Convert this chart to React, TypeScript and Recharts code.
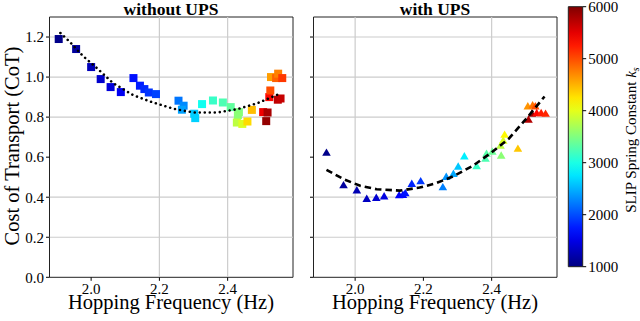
import React from 'react';
import { ScatterChart, Scatter, XAxis, YAxis, ReferenceLine, ReferenceArea, ComposedChart } from 'recharts';

const FONT = '"Liberation Serif", "Times New Roman", serif';

// ---- data ----
const xTicks = [2.0, 2.2, 2.4];
const yTicks = [0.0, 0.2, 0.4, 0.6, 0.8, 1.0, 1.2];
const cbTicks = [1000, 2000, 3000, 4000, 5000, 6000];

const leftFreq = [1.905, 1.956, 2.0, 2.028, 2.057, 2.087, 2.124, 2.143, 2.156, 2.169, 2.19, 2.256, 2.271, 2.266, 2.302, 2.305, 2.325, 2.357, 2.386, 2.409, 2.433, 2.43, 2.427, 2.443, 2.458, 2.471, 2.504, 2.517, 2.513, 2.522, 2.525, 2.547, 2.555, 2.527, 2.542, 2.548, 2.56];
const leftCot = [1.19, 1.14, 1.05, 0.99, 0.95, 0.925, 0.995, 0.957, 0.94, 0.923, 0.915, 0.882, 0.857, 0.837, 0.817, 0.795, 0.865, 0.883, 0.873, 0.85, 0.825, 0.81, 0.773, 0.766, 0.778, 0.836, 0.825, 0.823, 0.78, 0.9, 0.933, 0.887, 0.893, 1.0, 0.995, 1.017, 0.995];
const leftKs = [1050, 1150, 1280, 1380, 1450, 1560, 1700, 1760, 1820, 1880, 1950, 2200, 2300, 2420, 2600, 2650, 2950, 3150, 3250, 3350, 3500, 3550, 3800, 3950, 4300, 4450, 5450, 5800, 5900, 5350, 5000, 5700, 5650, 4600, 4900, 4750, 5100];

const leftFitFreq = [1.91, 1.936, 1.975, 2.02, 2.064, 2.123, 2.173, 2.241, 2.3, 2.37, 2.429, 2.488, 2.557];
const leftFitCot = [1.22, 1.178, 1.107, 1.04, 0.97, 0.91, 0.878, 0.842, 0.823, 0.823, 0.84, 0.87, 0.92];

const rightFreq = [1.916, 1.966, 2.005, 2.034, 2.062, 2.085, 2.129, 2.14, 2.147, 2.166, 2.192, 2.257, 2.267, 2.288, 2.302, 2.32, 2.356, 2.382, 2.385, 2.402, 2.428, 2.426, 2.434, 2.438, 2.477, 2.508, 2.506, 2.52, 2.528, 2.518, 2.532, 2.545, 2.558];
const rightCot = [0.625, 0.463, 0.437, 0.395, 0.4, 0.407, 0.413, 0.415, 0.423, 0.47, 0.483, 0.453, 0.505, 0.52, 0.556, 0.607, 0.558, 0.595, 0.62, 0.63, 0.611, 0.661, 0.686, 0.715, 0.645, 0.79, 0.857, 0.862, 0.857, 0.82, 0.823, 0.823, 0.82];
const rightKs = [1050, 1150, 1250, 1320, 1400, 1480, 1600, 1650, 1720, 1800, 1900, 2250, 2350, 2450, 2600, 2800, 3150, 3250, 3300, 3400, 3550, 3800, 3950, 4150, 4400, 5750, 4650, 4800, 5000, 5900, 5350, 5250, 5200];

const rightFitFreq = [1.916, 1.966, 2.015, 2.063, 2.131, 2.189, 2.237, 2.286, 2.344, 2.397, 2.45, 2.499, 2.555];
const rightFitCot = [0.537, 0.49, 0.457, 0.44, 0.433, 0.448, 0.47, 0.503, 0.556, 0.62, 0.692, 0.787, 0.903];

// ---- helpers ----
const KS_MIN = 1000;
const KS_MAX = 6000;
const jetT = (t: number) => {
  const c = (v: number) => Math.round(255 * Math.max(0, Math.min(1, v)));
  return `rgb(${c(1.5 - Math.abs(4 * t - 3))},${c(1.5 - Math.abs(4 * t - 2))},${c(1.5 - Math.abs(4 * t - 1))})`;
};
const jet = (k: number) => jetT((k - KS_MIN) / (KS_MAX - KS_MIN));

const leftPoints = leftFreq.map((f, i) => ({ f, c: leftCot[i], k: leftKs[i] }));
const rightPoints = rightFreq.map((f, i) => ({ f, c: rightCot[i], k: rightKs[i] }));
const leftFit = leftFitFreq.map((f, i) => ({ f, c: leftFitCot[i] }));
const rightFit = rightFitFreq.map((f, i) => ({ f, c: rightFitCot[i] }));

const xDomain: [number, number] = [1.878, 2.5915];
const yDomain: [number, number] = [0, 1.3];
const GRID = '#cccccc';

const Square = (p: any) => {
  const s = 8;
  return <rect x={p.cx - s / 2} y={p.cy - s / 2} width={s} height={s} fill={jet(p.payload.k)} />;
};
const Triangle = (p: any) => {
  const w = 8.6, h = 7.4;
  const pts = `${p.cx},${p.cy - h / 2} ${p.cx - w / 2},${p.cy + h / 2} ${p.cx + w / 2},${p.cy + h / 2}`;
  return <polygon points={pts} fill={jet(p.payload.k)} />;
};
const NoDot = () => <g />;

const tickStyle = { fontSize: 15, fill: '#000', fontFamily: FONT };

function Panel(props: {
  points: any[]; fit: any[]; shape: any; dash: string; vGrid: number[]; hGrid: number[];
  showYLabels: boolean; width: number; margin: any; yAxisWidth: number;
}) {
  const { points, fit, shape, dash, vGrid, hGrid, showYLabels, width, margin, yAxisWidth } = props;
  return (
    <ScatterChart width={width} height={321} margin={margin}>
      <XAxis type="number" dataKey="f" domain={xDomain} allowDataOverflow ticks={xTicks}
        tickFormatter={(v: number) => v.toFixed(1)} tick={tickStyle} tickSize={3.5} tickMargin={3}
        axisLine={false} tickLine={{ stroke: '#000' }} height={30} interval={0} />
      <YAxis type="number" dataKey="c" domain={yDomain} allowDataOverflow ticks={yTicks}
        tickFormatter={(v: number) => (showYLabels ? v.toFixed(1) : '')} tick={tickStyle} tickSize={3.5} tickMargin={2}
        axisLine={false} tickLine={{ stroke: '#000' }} width={yAxisWidth} interval={0} />
      {hGrid.map((v) => <ReferenceLine key={'h' + v} y={v} stroke={GRID} strokeWidth={1.2} />)}
      {vGrid.map((v) => <ReferenceLine key={'v' + v} x={v} stroke={GRID} strokeWidth={1.2} />)}
      <Scatter data={points} shape={shape} isAnimationActive={false} />
      <Scatter data={fit} shape={NoDot} isAnimationActive={false} lineType="joint"
        line={{ stroke: '#000', strokeWidth: 2.6, strokeDasharray: dash, strokeLinecap: dash.startsWith('0') ? 'round' : 'butt', fill: 'none' }} />
      <ReferenceArea x1={xDomain[0]} x2={xDomain[1]} y1={yDomain[0]} y2={yDomain[1]} fill="none" fillOpacity={0} stroke="#222" strokeWidth={1} />
    </ScatterChart>
  );
}

const cbStops = Array.from({ length: 21 }, (_, i) => i / 20);

const abs = (o: any): React.CSSProperties => ({ position: 'absolute', fontFamily: FONT, color: '#000', whiteSpace: 'nowrap', ...o });

export default function App() {
  return (
    <div style={{ position: 'absolute', left: 0, top: 0, width: 640, height: 321, background: '#fff', overflow: 'hidden' }}>
      <svg width={0} height={0} style={{ position: 'absolute' }}>
        <defs>
          <linearGradient id="jetGrad" x1="0" y1="1" x2="0" y2="0">
            {cbStops.map((t) => <stop key={t} offset={t} stopColor={jetT(t)} />)}
          </linearGradient>
        </defs>
      </svg>

      <div style={{ position: 'absolute', left: 0, top: 0 }}>
        <Panel points={leftPoints} fit={leftFit} shape={Square} dash="0.01 5" vGrid={[2.2, 2.4]} hGrid={[0.2, 0.4, 0.8, 1.0, 1.2]}
          showYLabels width={300} yAxisWidth={40} margin={{ top: 17, right: 7, bottom: 13.7, left: 9.5 }} />
      </div>
      <div style={{ position: 'absolute', left: 300, top: 0 }}>
        <Panel points={rightPoints} fit={rightFit} shape={Triangle} dash="6.5 4" vGrid={[2.0, 2.4]} hGrid={[0.2, 0.4, 0.8, 1.0, 1.2]}
          showYLabels={false} width={265} yAxisWidth={10} margin={{ top: 17, right: 8, bottom: 13.7, left: 3.5 }} />
      </div>

      <div style={{ position: 'absolute', left: 560, top: 0 }}>
        <ComposedChart width={80} height={321} data={[{ x: 0, y: KS_MIN }, { x: 1, y: KS_MAX }]}
          margin={{ top: 6.7, right: 17.3, bottom: 54.3, left: 8.3 }}>
          <XAxis type="number" dataKey="x" domain={[0, 1]} hide />
          <YAxis type="number" dataKey="y" orientation="right" domain={[KS_MIN, KS_MAX]} ticks={cbTicks} interval={0}
            tick={tickStyle} tickSize={3.5} tickMargin={2} axisLine={false} tickLine={{ stroke: '#000' }} width={40} />
          <ReferenceArea x1={0} x2={1} y1={KS_MIN} y2={KS_MAX} fill="url(#jetGrad)" fillOpacity={1} stroke="#222" strokeWidth={1} />
        </ComposedChart>
      </div>

      <div style={abs({ left: 171, top: 0, fontSize: 17.5, fontWeight: 'bold', lineHeight: '19.4px', transform: 'translateX(-50%)' })}>without UPS</div>
      <div style={abs({ left: 435, top: 0, fontSize: 17.5, fontWeight: 'bold', lineHeight: '19.4px', transform: 'translateX(-50%)' })}>with UPS</div>

      <div style={abs({ left: 171, top: 298.5, fontSize: 20.5, lineHeight: '6px', transform: 'translateX(-50%)' })}>Hopping Frequency (Hz)</div>
      <div style={abs({ left: 435, top: 298.5, fontSize: 20.5, lineHeight: '6px', transform: 'translateX(-50%)' })}>Hopping Frequency (Hz)</div>

      <div style={abs({ left: 12, top: 146, fontSize: 20.5, lineHeight: '20px', transform: 'translate(-50%,-50%) rotate(-90deg)' })}>Cost of Transport (CoT)</div>

      <div style={abs({ left: 632, top: 140, fontSize: 15, lineHeight: '15px', transform: 'translate(-50%,-50%) rotate(-90deg)' })}>
        SLIP Spring Constant <i>k</i><sub style={{ fontSize: 10, verticalAlign: 'baseline', position: 'relative', top: 3 }}><i>s</i></sub>
      </div>
    </div>
  );
}
